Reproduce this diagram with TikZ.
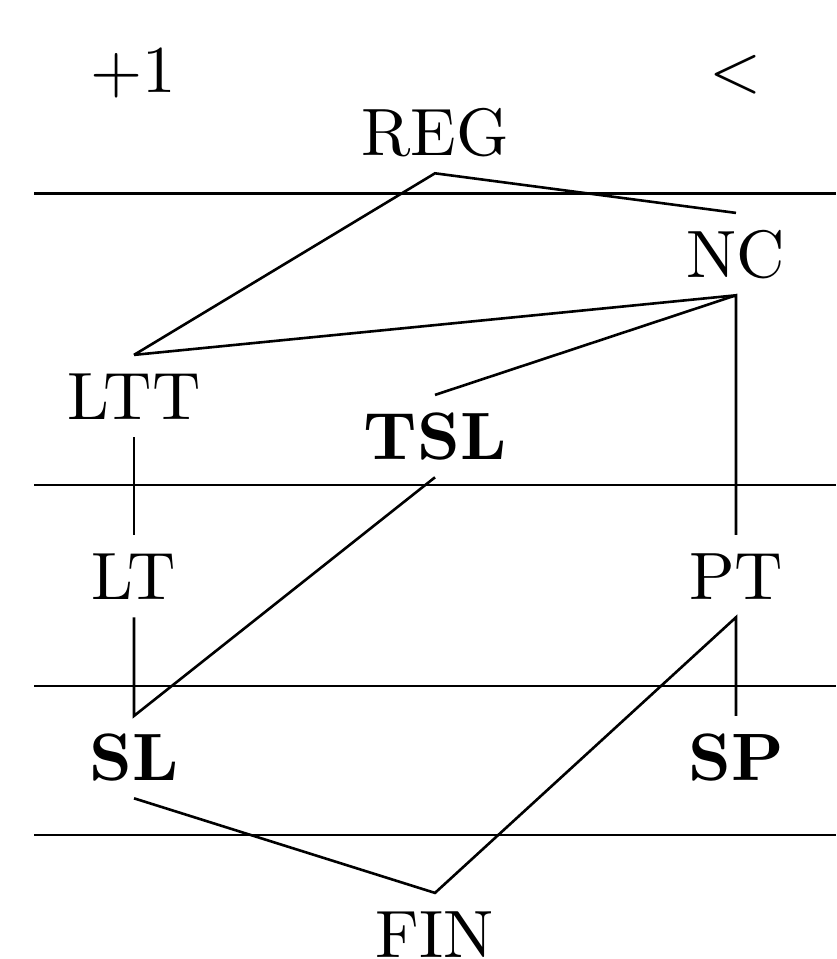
\documentclass[tikz,border=0pt]{standalone}
\usepackage{graphicx}
% labels are set at the 10pt design size and magnified
\newcommand{\magtext}[1]{\scalebox{6.7}{#1}}
\begin{document}
\begin{tikzpicture}[x=1pt,y=-1pt,line width=2.6pt,
  cls/.style={anchor=base,inner xsep=0pt,inner ysep=17pt,
    text height=45.8pt,text depth=0pt,font=\fontsize{10}{12}\selectfont},
  bcls/.style={cls,font=\fontsize{10}{12}\selectfont\bfseries},
  tag/.style={anchor=base,inner sep=0pt,font=\fontsize{10}{12}\selectfont},
  sep/.style={line width=2.8pt}]
\useasboundingbox (0,0) rectangle (836,959);

% column headings
\node[tag] (plus) at (133,92) {\magtext{$+1$}};
\node[tag] (less) at (736,91) {\magtext{$<$}};

% level separators
\draw[sep] (34,193.5) -- (836,193.5);
\draw[sep] (34,485) -- (836,485);
\draw[sep] (34,686) -- (836,686);
\draw[sep] (34,835) -- (836,835);

% classes
\node[cls]  (REG) at (435,155) {\magtext{REG}};
\node[cls]  (NC)  at (736,277) {\magtext{NC}};
\node[cls]  (LTT) at (134,419) {\magtext{LTT}};
\node[bcls] (TSL) at (435,459) {\magtext{TSL}};
\node[cls]  (LT)  at (134,599) {\magtext{LT}};
\node[cls]  (PT)  at (736,599) {\magtext{PT}};
\node[bcls] (SL)  at (134,780) {\magtext{SL}};
\node[bcls] (SP)  at (736,780) {\magtext{SP}};
\node[cls]  (FIN) at (435,957) {\magtext{FIN}};

% inclusions
\draw (LTT.north) -- (REG.south) -- (NC.north);
\draw (LTT.north) -- (NC.south);
\draw (TSL.north) -- (NC.south) -- (PT.north);
\draw (LTT.south) -- (LT.north);
\draw (LT.south) -- (SL.north) -- (TSL.south);
\draw (SP.north) -- (PT.south) -- (FIN.north) -- (SL.south);
\end{tikzpicture}
\end{document}
